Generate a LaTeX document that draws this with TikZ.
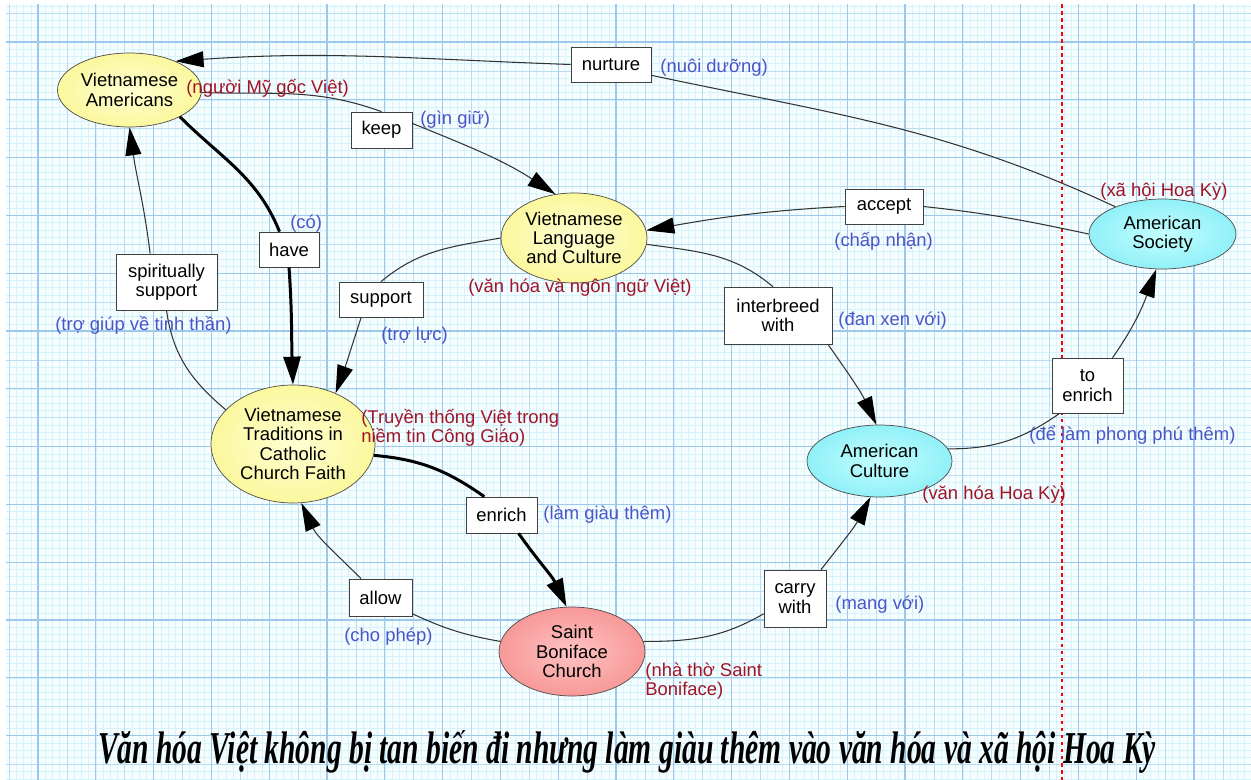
\documentclass[tikz,border=0pt]{standalone}
\usepackage{fontspec}
\setmainfont{Liberation Sans}
\newfontfamily\titlefont{Liberation Serif}
\usetikzlibrary{shapes.geometric,arrows.meta}

\definecolor{paper}{RGB}{246,253,255}
\definecolor{gridfine}{RGB}{214,243,251}
\definecolor{gridmid}{RGB}{184,221,242}
\definecolor{gridbold}{RGB}{156,200,236}
\definecolor{viet}{RGB}{160,20,40}
\definecolor{gloss}{RGB}{75,85,200}
\definecolor{yin}{RGB}{255,255,210}
\definecolor{yout}{RGB}{246,240,105}
\definecolor{cin}{RGB}{195,255,255}
\definecolor{cout}{RGB}{95,225,240}
\definecolor{rin}{RGB}{255,195,195}
\definecolor{rout}{RGB}{240,110,110}

\pgfdeclareradialshading{yellowball}{\pgfpoint{0bp}{0bp}}{color(0bp)=(yin); color(50bp)=(yout)}
\pgfdeclareradialshading{cyanball}{\pgfpoint{0bp}{0bp}}{color(0bp)=(cin); color(50bp)=(cout)}
\pgfdeclareradialshading{redball}{\pgfpoint{0bp}{0bp}}{color(0bp)=(rin); color(50bp)=(rout)}

\begin{document}
\begin{tikzpicture}[x=0.02cm, y=0.02cm,
    every node/.style={font=\fontsize{10.5}{11}\selectfont},
    concept/.style={ellipse, draw=black!70, inner sep=0pt, align=center},
    phrase/.style={rectangle, draw=black!75, fill=white, inner sep=0pt, align=center},
    link/.style={draw=black!80, line width=0.6pt},
    arr/.style={link, -{Triangle[length=0.56cm,width=0.32cm,color=black]}},
    heavy/.style={draw=black, line width=1.7pt},
    heavyarr/.style={heavy, -{Triangle[length=0.56cm,width=0.34cm]}},
    vn/.style={inner sep=0pt, anchor=west, text=viet, align=left},
    en/.style={inner sep=0pt, anchor=west, text=gloss}]
\useasboundingbox (0,0) rectangle (1251,-780);

% graph paper
\fill[paper] (6,-4) rectangle (1251,-780);
\foreach \i in {0,...,171}
    \draw[gridfine, line width=0.3pt] ({9.1+7.225*\i},-4) -- ++(0,-776);
\foreach \i in {0,...,107}
    \draw[gridfine, line width=0.3pt] (6,{-5.9-7.225*\i}) -- (1251,{-5.9-7.225*\i});
\foreach \i in {0,...,42}
    \draw[gridmid, line width=0.4pt] ({9.1+28.9*\i},-4) -- ++(0,-776);
\foreach \i in {0,...,26}
    \draw[gridmid, line width=0.4pt] (6,{-13.1-28.9*\i}) -- (1251,{-13.1-28.9*\i});
\foreach \i in {0,...,20}
    \draw[gridbold, line width=0.6pt] ({38+57.8*\i},-4) -- ++(0,-776);
\foreach \i in {0,...,12}
    \draw[gridbold, line width=0.6pt] (6,{-42-57.8*\i}) -- (1251,{-42-57.8*\i});
\draw[red, line width=0.6pt, dash pattern=on 2pt off 2pt] (1062,-4) -- (1062,-780);

% concepts
\node[concept, shading=yellowball, minimum width=2.88cm, minimum height=1.48cm] (va) at (129.5,-90) {Vietnamese\\Americans};
\node[concept, shading=yellowball, minimum width=2.92cm, minimum height=1.8cm] (vlc) at (574,-238) {Vietnamese\\Language\\and Culture};
\node[concept, shading=cyanball, minimum width=2.94cm, minimum height=1.4cm] (as) at (1162.5,-234) {American\\Society};
\node[concept, shading=yellowball, minimum width=3.28cm, minimum height=2.36cm] (vt) at (293,-444) {Vietnamese\\Traditions in\\Catholic\\Church Faith};
\node[concept, shading=cyanball, minimum width=2.9cm, minimum height=1.44cm] (ac) at (879.5,-461) {American\\Culture};
\node[concept, shading=redball, minimum width=2.92cm, minimum height=1.78cm] (sbc) at (572,-651.5) {Saint\\Boniface\\Church};

% linking phrases
\node[phrase, minimum width=1.6cm, minimum height=0.7cm] (nurture) at (611,-64.5) {nurture};
\node[phrase, minimum width=1.22cm, minimum height=0.72cm] (keep) at (381.5,-130) {keep};
\node[phrase, minimum width=1.2cm, minimum height=0.7cm] (have) at (289,-249.5) {have};
\node[phrase, minimum width=2.02cm, minimum height=1.12cm] (spirit) at (166.5,-282) {spiritually\\support};
\node[phrase, minimum width=1.68cm, minimum height=0.7cm] (support) at (381,-299.5) {support};
\node[phrase, minimum width=1.56cm, minimum height=0.7cm] (accept) at (884,-206.5) {accept};
\node[phrase, minimum width=2.16cm, minimum height=1.14cm] (inter) at (778,-315.5) {interbreed\\with};
\node[phrase, minimum width=1.42cm, minimum height=1.1cm] (toenrich) at (1087.5,-385.5) {to\\enrich};
\node[phrase, minimum width=1.42cm, minimum height=0.72cm] (enrich) at (501.5,-515) {enrich};
\node[phrase, minimum width=1.26cm, minimum height=0.74cm] (allow) at (380.5,-597.5) {allow};
\node[phrase, minimum width=1.24cm, minimum height=1.14cm] (carry) at (795,-598.5) {carry\\with};

% connectors
\draw[link] (as.150) to[out=155,in=-12] (nurture.-15);
\draw[arr] (nurture.west) to[out=178,in=4] (va.32);
\draw[link] (va.-2) to[out=-2,in=160] (keep.north);
\draw[arr] (keep.12) to[out=-22,in=147] (vlc.113);
\draw[heavy] (va.-28) to[out=-45,in=112] (have.118);
\draw[heavyarr] (have.south) to[out=-86,in=92] (vt.north);
\draw[link] (vt.153) to[out=140,in=-82] (spirit.south);
\draw[arr] (spirit.120) to[out=97,in=-82] (va.south);
\draw[link] (vlc.west) to[out=190,in=40] (support.north);
\draw[arr] (support.222) to[out=-108,in=70] (vt.50);
\draw[link] (as.west) to[out=168,in=-6] (accept.east);
\draw[arr] (accept.west) to[out=183,in=10] (vlc.6);
\draw[link] (vlc.-5) to[out=-8,in=140] (inter.100);
\draw[arr] (inter.-30) to[out=-55,in=115] (ac.95);
\draw[link] (ac.10) to[out=0,in=-145] (toenrich.-135);
\draw[arr] (toenrich.48) to[out=55,in=-110] (as.-100);
\draw[heavy] (vt.-8) to[out=-5,in=145] (enrich.133);
\draw[heavyarr] (enrich.-47) to[out=-55,in=115] (sbc.97);
\draw[link] (sbc.172) to[out=170,in=-25] (allow.-27);
\draw[arr] (allow.136) to[out=135,in=-65] (vt.-82);
\draw[link] (sbc.8) to[out=0,in=210] (carry.206);
\draw[arr] (carry.48) to[out=52,in=-118] (ac.-104);

% translations
\node[vn] (vaVn) at (186,-88) {(người Mỹ gốc Việt)};
\node[vn] (vlcVn) at (468,-288) {(văn hóa và ngôn ngữ Việt)};
\node[vn] (asVn) at (1100,-192) {(xã hội Hoa Kỳ)};
\node[vn] (vtVn) at (361,-428) {(Truyền thống Việt trong\\niềm tin Công Giáo)};
\node[vn] (acVn) at (922,-495) {(văn hóa Hoa Kỳ)};
\node[vn] (sbcVn) at (645,-681) {(nhà thờ Saint\\Boniface)};
\node[en] (nurtureVn) at (660,-68) {(nuôi dưỡng)};
\node[en] (keepVn) at (420,-120) {(gìn giữ)};
\node[en] (haveVn) at (290,-224) {(có)};
\node[en] (spiritVn) at (55,-325) {(trợ giúp về tinh thần)};
\node[en] (supportVn) at (381,-336) {(trợ lực)};
\node[en] (acceptVn) at (834,-241) {(chấp nhận)};
\node[en] (interVn) at (838,-321) {(đan xen với)};
\node[en] (toenrichVn) at (1029,-435) {(để làm phong phú thêm)};
\node[en] (enrichVn) at (543,-515) {(làm giàu thêm)};
\node[en] (allowVn) at (344,-637) {(cho phép)};
\node[en] (carryVn) at (835,-605) {(mang với)};

\node[anchor=base, inner sep=0pt] (title) at (627,-763)
    {\resizebox{21.16cm}{0.66cm}{\titlefont\bfseries\itshape Văn hóa Việt không bị tan biến đi nhưng làm giàu thêm vào văn hóa và xã hội Hoa Kỳ}};
\end{tikzpicture}
\end{document}
